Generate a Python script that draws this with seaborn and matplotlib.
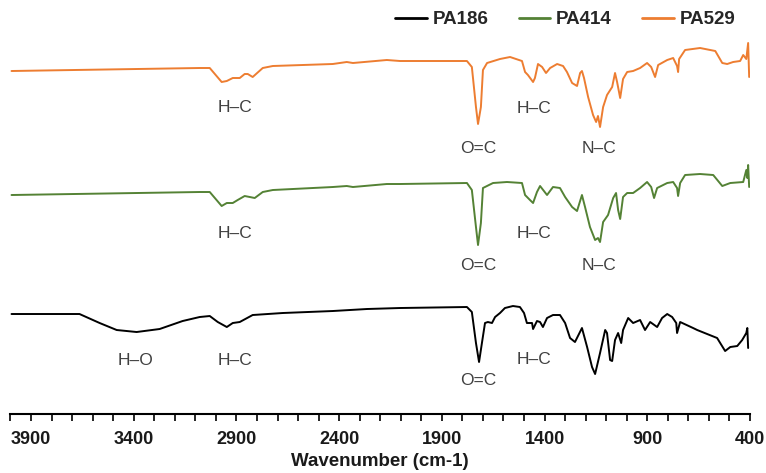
import numpy as np
import pandas as pd
import seaborn as sns
import matplotlib.pyplot as plt
from matplotlib.lines import Line2D
from matplotlib.ticker import FixedLocator, MultipleLocator

# FTIR spectra (arbitrary units, curves already stacked)
pa529_wn = [3995, 3079, 3030, 2972, 2947, 2918, 2884, 2860, 2845, 2821, 2772, 2723,
            2431, 2363, 2333, 2168, 2104, 1778, 1754, 1734, 1724, 1710, 1700, 1680,
            1617, 1568, 1510, 1495, 1481, 1456, 1447, 1432, 1412, 1393, 1373, 1339,
            1310, 1291, 1266, 1242, 1227, 1218, 1208, 1188, 1164, 1149, 1140, 1130,
            1115, 1096, 1071, 1057, 1047, 1032, 1018, 998, 969, 935, 901, 881, 862,
            847, 803, 774, 755, 750, 745, 716, 643, 569, 535, 511, 482, 448, 433,
            418, 409, 404]
pa529_val = [343, 346, 346, 332, 333, 336, 336, 340, 340, 337, 346, 348,
             350, 352, 351, 354, 353, 353, 347, 307, 290, 307, 344, 351,
             355, 357, 353, 342, 339, 332, 336, 350, 347, 341, 346, 350,
             348, 342, 331, 328, 341, 343, 336, 317, 299, 292, 298, 287,
             307, 319, 327, 341, 332, 316, 335, 342, 343, 346, 351, 347, 337,
             349, 354, 356, 348, 342, 355, 364, 366, 363, 351, 350, 352, 353, 359,
             355, 371, 337]

pa414_wn = [3995, 3079, 3030, 2972, 2947, 2918, 2894, 2860, 2835, 2811, 2772, 2723,
            2431, 2363, 2333, 2168, 2104, 1778, 1754, 1734, 1724, 1710, 1700, 1651,
            1583, 1510, 1495, 1471, 1456, 1437, 1422, 1388, 1359, 1325, 1300, 1266,
            1242, 1218, 1203, 1179, 1154, 1140, 1130, 1115, 1091, 1066, 1052, 1042,
            1032, 1018, 998, 969, 935, 901, 881, 867, 852, 803, 774, 755, 750, 740,
            716, 643, 579, 535, 496, 433, 418, 413, 409, 404]
pa414_val = [219, 222, 222, 208, 211, 211, 214, 218, 217, 216, 222, 224,
             227, 228, 227, 230, 230, 231, 224, 187, 169, 191, 226, 231,
             232, 231, 219, 214, 211, 222, 228, 219, 227, 226, 217, 207,
             203, 219, 207, 187, 174, 176, 172, 192, 199, 216, 221, 204,
             195, 217, 221, 221, 226, 232, 227, 216, 226, 231, 232, 226, 218, 231,
             239, 240, 239, 228, 231, 232, 244, 236, 249, 227]

pa186_wn = [3995, 3664, 3566, 3483, 3386, 3274, 3162, 3079, 3030, 2991, 2947, 2918,
            2884, 2821, 2675, 2431, 2265, 2104, 1778, 1754, 1734, 1719, 1705, 1690,
            1676, 1656, 1641, 1617, 1593, 1554, 1520, 1500, 1486, 1461, 1456, 1437,
            1422, 1408, 1388, 1359, 1325, 1300, 1276, 1252, 1218, 1193, 1169, 1154,
            1130, 1105, 1096, 1081, 1071, 1057, 1042, 1027, 1018, 993, 969, 935,
            911, 886, 852, 828, 803, 779, 759, 755, 740, 677, 657, 560, 521, 496,
            462, 438, 418, 413, 409]
pa186_val = [100, 100, 91, 84, 82, 85, 93, 97, 98, 92, 87, 91,
             92, 99, 101, 103, 105, 106, 107, 102, 71, 52, 71, 91,
             92, 91, 97, 101, 106, 108, 107, 101, 91, 91, 85, 93,
             92, 87, 96, 99, 99, 91, 76, 72, 86, 67, 47, 40,
             61, 84, 81, 54, 53, 74, 81, 71, 84, 96, 91, 94,
             84, 92, 87, 96, 100, 97, 91, 81, 92, 86, 84, 76, 63, 67,
             68, 74, 81, 86, 66]

samples = ['PA186', 'PA414', 'PA529']
colors = ['#000000', '#548235', '#ED7D31']

# band labels: (text, wavenumber, height)
band_labels = [
    ('H\u2013C', 2905, 307), ('O=C', 1722, 266), ('H\u2013C', 1450, 306), ('N\u2013C', 1135, 266),
    ('H\u2013C', 2905, 181), ('O=C', 1722, 149), ('H\u2013C', 1450, 181), ('N\u2013C', 1135, 149),
    ('H\u2013O', 3390, 54), ('H\u2013C', 2905, 54), ('H\u2013C', 1450, 55), ('O=C', 1722, 34),
]

sns.set_theme(style='white')
plt.rcParams['font.family'] = ['Liberation Sans', 'DejaVu Sans']

df = pd.concat([
    pd.DataFrame({'Wavenumber': pa186_wn, 'Intensity': pa186_val, 'Sample': 'PA186'}),
    pd.DataFrame({'Wavenumber': pa414_wn, 'Intensity': pa414_val, 'Sample': 'PA414'}),
    pd.DataFrame({'Wavenumber': pa529_wn, 'Intensity': pa529_val, 'Sample': 'PA529'}),
])

fig = plt.figure(figsize=(7.66, 4.73), dpi=100)
ax = fig.add_axes([0.0137, 0.1247, 0.9654, 0.8753])

sns.lineplot(data=df, x='Wavenumber', y='Intensity', hue='Sample',
             hue_order=samples, palette=colors, estimator=None,
             linewidth=1.4, legend=False, ax=ax)

for txt, wn, h in band_labels:
    ax.text(wn, h, txt, ha='center', va='center', fontsize=12.5, color='#404040')

ax.set_xlim(4000, 400)
ax.set_ylim(0, 414)

ax.xaxis.set_major_locator(FixedLocator(np.arange(3900, 399, -500)))
ax.xaxis.set_minor_locator(MultipleLocator(100))
ax.tick_params(axis='x', which='both', direction='out', length=5, width=1.2,
               color='black', bottom=True)
ax.tick_params(axis='x', which='major', pad=7, labelsize=13, labelcolor='#1a1a1a')
for lab in ax.get_xticklabels():
    lab.set_fontweight('bold')
ax.set_yticks([])
ax.set_ylabel('')
ax.set_xlabel('Wavenumber (cm-1)', fontsize=13.5, fontweight='bold', color='#1a1a1a', labelpad=4)

for side in ['top', 'left', 'right']:
    ax.spines[side].set_visible(False)
ax.spines['bottom'].set_color('black')
ax.spines['bottom'].set_linewidth(1.5)

handles = [Line2D([0], [0], color=c, lw=2) for c in colors]
leg = ax.legend(handles, samples, loc='upper right', bbox_to_anchor=(0.995, 1.0),
                ncol=3, frameon=False, handlelength=1.7, handletextpad=0.3,
                columnspacing=1.6, borderaxespad=0.2,
                prop={'weight': 'bold', 'size': 13.5})

fig.savefig('out.png', dpi=100)
